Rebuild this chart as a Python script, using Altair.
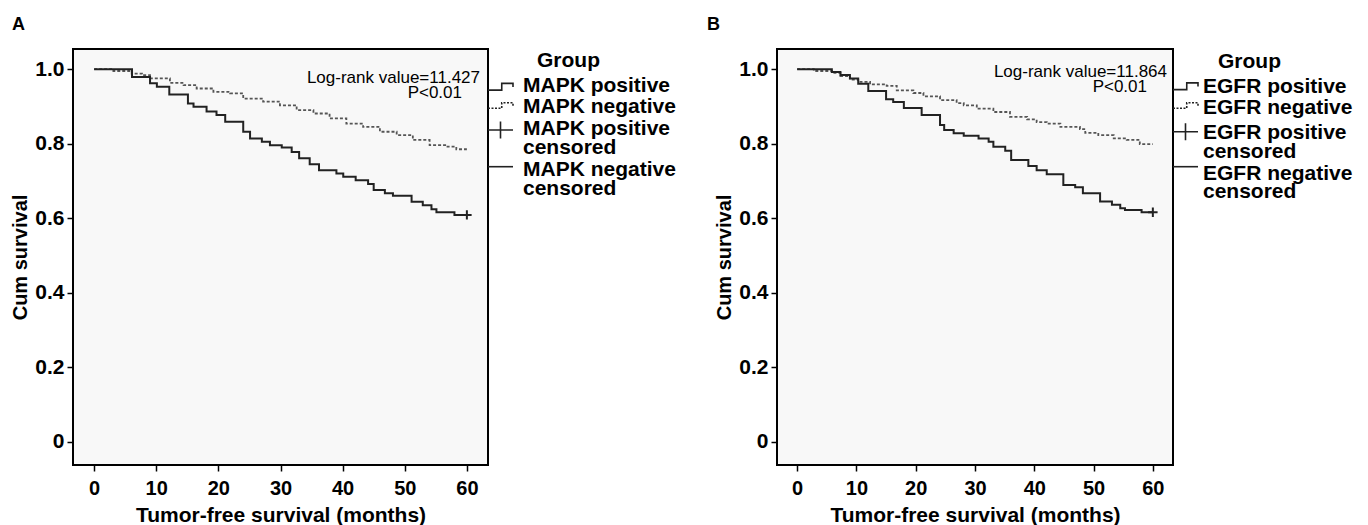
import altair as alt
import pandas as pd

FONT = "Liberation Sans"

month_ticks = [0, 10, 20, 30, 40, 50, 60]
surv_ticks = [0, 0.2, 0.4, 0.6, 0.8, 1.0]

# Panel A (MAPK)
a_pos_t = [0, 6.1, 9.0, 10.1, 12.1, 15.1, 16.0, 18.1, 19.7, 21.1, 24.0, 25.1, 27.0, 28.3, 30.2, 31.8,
           33.0, 34.7, 36.2, 39.0, 40.1, 42.1, 44.1, 45.0, 46.8, 48.1, 51.1, 52.9, 54.3, 55.1, 58.0, 60.0]
a_pos_s = [1.0, 0.979, 0.962, 0.953, 0.932, 0.908, 0.899, 0.886, 0.877, 0.859, 0.832, 0.814, 0.805, 0.796,
           0.790, 0.778, 0.761, 0.745, 0.729, 0.720, 0.711, 0.702, 0.692, 0.676, 0.667, 0.660, 0.644, 0.635,
           0.624, 0.616, 0.609, 0.609]
a_neg_t = [0, 3.1, 6.05, 7.7, 9.0, 12.2, 14.4, 16.5, 19.2, 21.9, 24.0, 27.2, 29.9, 32.6, 35.3, 37.9,
           40.6, 43.3, 46.0, 48.7, 51.3, 54.0, 56.7, 58.3, 60.0]
a_neg_s = [1.0, 0.995, 0.988, 0.984, 0.975, 0.963, 0.957, 0.948, 0.939, 0.935, 0.921, 0.913, 0.903, 0.890,
           0.881, 0.868, 0.854, 0.845, 0.832, 0.823, 0.810, 0.796, 0.792, 0.785, 0.785]

# Panel B (EGFR)
b_pos_t = [0, 5.85, 7.3, 8.9, 10.3, 12.0, 15.0, 16.2, 18.0, 21.0, 24.1, 24.8, 26.4, 28.1, 30.6, 32.3,
           33.1, 35.1, 36.1, 39.0, 40.4, 42.1, 44.9, 46.9, 48.2, 51.1, 53.1, 54.5, 55.3, 58.1, 60.0]
b_pos_s = [1.0, 0.992, 0.984, 0.975, 0.961, 0.941, 0.919, 0.912, 0.896, 0.877, 0.850, 0.837, 0.828, 0.821,
           0.814, 0.805, 0.792, 0.781, 0.756, 0.740, 0.729, 0.718, 0.689, 0.683, 0.667, 0.645, 0.636, 0.627,
           0.622, 0.616, 0.616]
b_neg_t = [0, 2.8, 5.85, 7.3, 8.9, 10.3, 12.3, 15.1, 16.8, 19.6, 21.3, 24.1, 26.9, 28.1, 30.3, 33.1,
           35.9, 38.8, 40.4, 42.1, 44.4, 47.7, 48.6, 50.8, 53.4, 55.6, 57.8, 60.0]
b_neg_s = [1.0, 0.995, 0.990, 0.981, 0.972, 0.966, 0.959, 0.955, 0.943, 0.936, 0.927, 0.917, 0.909, 0.903,
           0.894, 0.885, 0.872, 0.865, 0.858, 0.854, 0.845, 0.839, 0.829, 0.823, 0.814, 0.810, 0.799, 0.799]

x_title = "Tumor-free survival (months)"
y_title = "Cum survival"
legend_title = "Group"

STEP_SOLID = "M-1,0.27L0.1,0.27L0.1,-0.27L1,-0.27L1,0.02"
STEP_DASH = "M-1,0.22L0.1,0.22L0.1,-0.22L1,-0.22L1,0.1"
CROSS_LEG = "M-1,0L1,0M0,-0.68L0,0.68"
LINE_LEG = "M-1,0L1,0"
CROSS = "M-1,0L1,0M0,-1L0,1"


def single():
    return alt.Chart(pd.DataFrame({"k": [0]}))


def text(label, x, y, size, weight="bold", align="left"):
    return single().mark_text(text=label, align=align, baseline="middle", font=FONT,
                              fontSize=size, fontWeight=weight, color="black").encode(
        x=alt.value(x), y=alt.value(y))


def symbol(path, x, y, dash=None):
    kw = dict(shape=path, size=625, filled=False, strokeWidth=1.6, color="#222", opacity=1)
    if dash:
        kw["strokeDash"] = dash
    return single().mark_point(**kw).encode(x=alt.value(x), y=alt.value(y))


def panel(letter, letter_x, gene, logrank, lr_pos, pos_t, pos_s, neg_t, neg_s, width,
          text_dx, group_dx, label_ys, sym_ys):
    df = pd.concat([
        pd.DataFrame({"t": pos_t, "s": pos_s, "g": "pos"}),
        pd.DataFrame({"t": neg_t, "s": neg_s, "g": "neg"}),
    ], ignore_index=True)
    x = alt.X("t:Q", scale=alt.Scale(domain=[-3.4, 63.4], nice=False, zero=False),
              axis=alt.Axis(values=month_ticks, title=x_title, labelFontSize=20, titleFontSize=21,
                            labelPadding=7, titlePadding=6, labelFlush=False, labelOverlap=False))
    y = alt.Y("s:Q", scale=alt.Scale(domain=[-0.062, 1.054], nice=False, zero=False),
              axis=alt.Axis(values=surv_ticks, title=y_title, labelFontSize=21, titleFontSize=20,
                            labelPadding=3, titlePadding=4, labelFlush=False, labelOverlap=False,
                            labelExpr="datum.value == 0 ? '0' : format(datum.value, '.1f')"))
    base = alt.Chart(df)
    neg = base.transform_filter("datum.g == 'neg'").mark_line(
        interpolate="step-after", strokeDash=[3, 2], color="#555", strokeWidth=1.8).encode(x=x, y=y)
    pos = base.transform_filter("datum.g == 'pos'").mark_line(
        interpolate="step-after", color="#222", strokeWidth=2).encode(x="t:Q", y="s:Q")
    cens = alt.Chart(pd.DataFrame({"t": [pos_t[-1]], "s": [pos_s[-1]]})).mark_point(
        shape=CROSS, size=90, filled=False, strokeWidth=2, color="#222", opacity=1).encode(x="t:Q", y="s:Q")

    layers = [neg, pos, cens]
    layers.append(text(logrank[0], lr_pos[0][0], lr_pos[0][1], 17, "normal", "right"))
    layers.append(text(logrank[1], lr_pos[1][0], lr_pos[1][1], 17, "normal", "right"))
    layers.append(text(letter, letter_x, -24, 18))
    labels = [legend_title, f"{gene} positive", f"{gene} negative", f"{gene} positive", "censored",
              f"{gene} negative", "censored"]
    for i, (lab, ly) in enumerate(zip(labels, label_ys)):
        lx = width + (group_dx if i == 0 else text_dx)
        layers.append(text(lab, lx, ly, 21))
    sx = width + 12.5
    layers.append(symbol(STEP_SOLID, sx, sym_ys[0]))
    layers.append(symbol(STEP_DASH, sx, sym_ys[1], [2, 1.5]))
    layers.append(symbol(CROSS_LEG, sx, sym_ys[2]))
    layers.append(symbol(LINE_LEG, sx, sym_ys[3]))
    return alt.layer(*layers).properties(width=width, height=416)


A = panel("A", -61, "MAPK", ["Log-rank value=11.427", "P<0.01"], [(407, 29), (389, 44)],
          a_pos_t, a_pos_s, a_neg_t, a_neg_s, 415, 35, 49,
          [11.7, 37.3, 58, 79.7, 98.5, 121.3, 140], [37.7, 56.5, 81, 117.7])
B = panel("B", -70, "EGFR", ["Log-rank value=11.864", "P<0.01"], [(390, 22.7), (370, 37.7)],
          b_pos_t, b_pos_s, b_neg_t, b_neg_s, 396, 30, 45,
          [12.7, 38.3, 58.5, 83.5, 102.7, 125, 142.7], [37.2, 56.5, 82.7, 117.7])

chart = alt.hconcat(A, B, spacing=29).properties(
    padding={"left": 1, "top": 7, "right": 0, "bottom": 0}
).configure_view(
    fill="#f8f8f8", stroke="black", strokeWidth=2
).configure_axis(
    domain=False, grid=False, tickColor="black", tickSize=6, tickWidth=1.5,
    labelFont=FONT, labelFontWeight="bold", labelColor="black",
    titleFont=FONT, titleFontWeight="bold", titleColor="black"
)

chart.save("out.html", embed_options={"renderer": "svg", "actions": False})
